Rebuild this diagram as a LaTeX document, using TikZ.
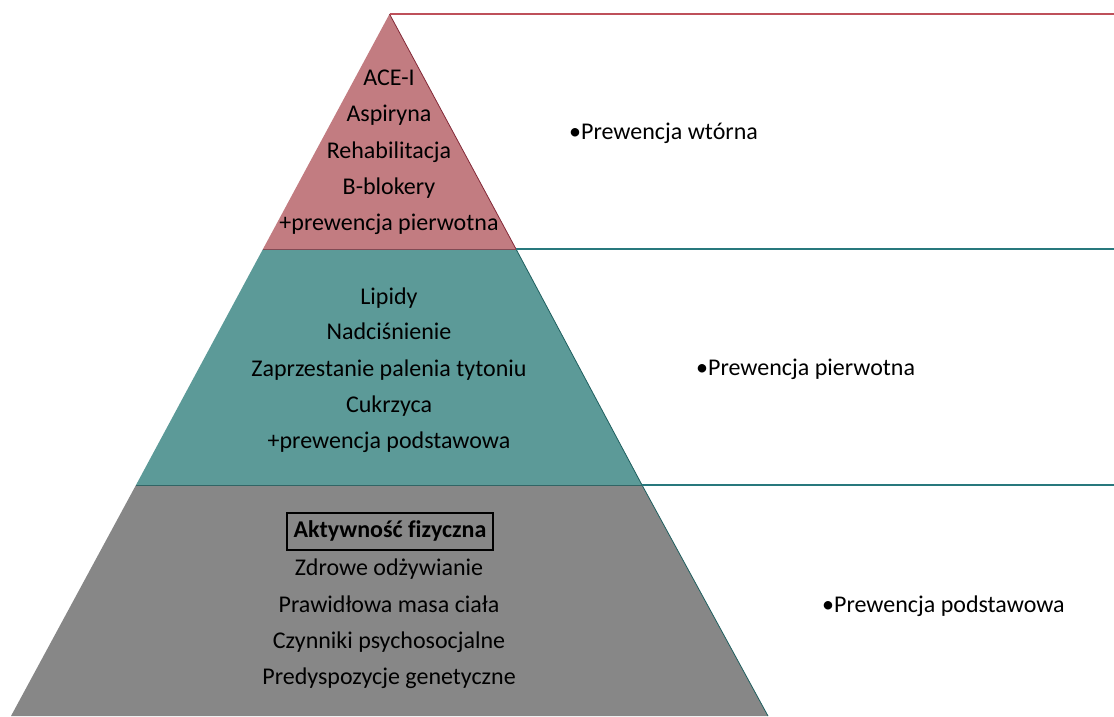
\documentclass[tikz,border=0pt]{standalone}
\usepackage{fontspec}
\setmainfont{Carlito}[Ligatures=CommonOff]
\definecolor{tierred}{RGB}{194,124,129}
\definecolor{tierteal}{RGB}{92,154,152}
\definecolor{tiergray}{RGB}{135,135,135}
\definecolor{edgered}{RGB}{130,40,55}
\definecolor{edgeteal}{RGB}{30,95,95}
\definecolor{linered}{RGB}{190,80,90}
\definecolor{lineteal}{RGB}{40,120,125}
\tikzset{
  lbl/.style={font=\fontsize{24}{28}\selectfont, inner sep=0pt, text height=22pt, text depth=5pt, anchor=center},
  side/.style={font=\fontsize{24}{28}\selectfont, inner sep=0pt, text height=21pt, text depth=5pt, anchor=west},
  boxed/.style={draw=black, line width=1.8pt, inner xsep=7pt, inner ysep=8pt, text height=16pt, text depth=5pt, anchor=center, font=\fontsize{24}{28}\selectfont\bfseries},
}
\begin{document}
\begin{tikzpicture}[x=1pt,y=-1pt]
\useasboundingbox (0,0) rectangle (1114,716);
% coordinates
\coordinate (apex) at (389.5,14);
\coordinate (l1) at (263,249); \coordinate (r1) at (516,249);
\coordinate (l2) at (136,485); \coordinate (r2) at (642,485);
\coordinate (l3) at (11,716); \coordinate (r3) at (768,716);
\coordinate (e0) at (1114,14);
\coordinate (e1) at (1114,249);
\coordinate (e2) at (1114,485);
% tiers
\fill[tierred] (apex) -- (r1) -- (l1) -- cycle;
\fill[tierteal] (l1) -- (r1) -- (r2) -- (l2) -- cycle;
\fill[tiergray] (l2) -- (r2) -- (r3) -- (l3) -- cycle;
\draw[edgered, line width=0.8pt] (apex) -- (r1);
\draw[edgeteal, line width=0.8pt] (r1) -- (r2) -- (r3);
\draw[edgered!60!gray, line width=1pt] (l1) -- (r1);
\draw[edgeteal!80!gray, line width=1pt] (l2) -- (r2);
% side lines
\draw[linered, line width=1.4pt] (apex) -- (e0);
\draw[lineteal, line width=1.2pt] (r1) -- (e1);
\draw[lineteal, line width=1.2pt] (r2) -- (e2);
% top tier text
\node[lbl] (t1) at (389,77) {ACE-I};
\node[lbl] (t2) at (389,113) {Aspiryna};
\node[lbl] (t3) at (389,150) {Rehabilitacja};
\node[lbl] (t4) at (389,186) {B-blokery};
\node[lbl] (t5) at (389,222) {+prewencja pierwotna};
% middle tier text
\node[lbl] (m1) at (389,296) {Lipidy};
\node[lbl] (m2) at (389,331) {Nadciśnienie};
\node[lbl] (m3) at (389,368) {Zaprzestanie palenia tytoniu};
\node[lbl] (m4) at (389,404) {Cukrzyca};
\node[lbl] (m5) at (389,440) {+prewencja podstawowa};
% bottom tier text
\node[boxed] (b1) at (390,531.5) {Aktywność fizyczna};
\node[lbl] (b2) at (389,567) {Zdrowe odżywianie};
\node[lbl] (b3) at (389,604) {Prawidłowa masa ciała};
\node[lbl] (b4) at (389,640) {Czynniki psychosocjalne};
\node[lbl] (b5) at (389,676) {Predyspozycje genetyczne};
% side labels
\node[side] (s1) at (569,131) {•Prewencja wtórna};
\node[side] (s2) at (696,367) {•Prewencja pierwotna};
\node[side] (s3) at (822,604) {•Prewencja podstawowa};
\end{tikzpicture}
\end{document}
